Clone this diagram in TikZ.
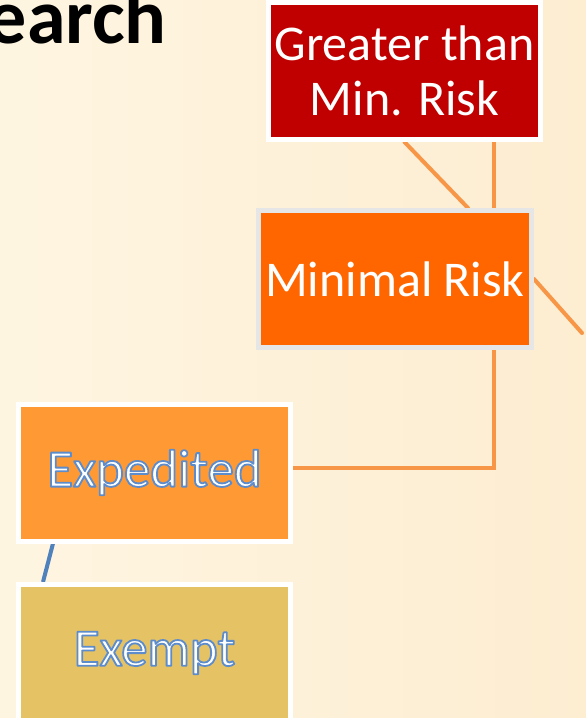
\documentclass[tikz,border=0pt]{standalone}
\usepackage{fontspec}
\setmainfont{Carlito}
\definecolor{bgL}{HTML}{FEF5E1}
\definecolor{bgR}{HTML}{FDEDD1}
\definecolor{redbox}{HTML}{C00000}
\definecolor{minbox}{HTML}{FF6600}
\definecolor{expbox}{HTML}{FF9933}
\definecolor{exmbox}{HTML}{E5C264}
\definecolor{lineor}{HTML}{F79646}
\definecolor{lineblue}{HTML}{4F81BD}
\definecolor{graybd}{HTML}{E6E6E6}
\newcommand{\glowtext}[1]{\special{pdf:literal direct 2 Tr 1.8 w 1 j 0.36 0.55 0.80 RG}#1\special{pdf:literal direct 0 Tr 0 G 1 w 0 j}}
\pgfdeclarelayer{bg}
\pgfdeclarelayer{lines}
\pgfsetlayers{bg,lines,main}
\tikzset{
  box/.style={draw=white, line width=5pt, minimum width=272pt, minimum height=137pt,
    inner sep=0pt, align=center, text=white, font=\fontsize{50}{55}\selectfont},
  glowbox/.style={box, font=\fontsize{53}{55}\selectfont},
  orline/.style={draw=lineor, line width=4pt, line cap=round},
  blline/.style={draw=lineblue, line width=4pt},
}
\begin{document}
\begin{tikzpicture}[x=1pt,y=-1pt]
\useasboundingbox (0,0) rectangle (586,718);
\clip (0,0) rectangle (586,718);
\begin{pgfonlayer}{bg}
\shade[left color=bgL, right color=bgR] (0,0) rectangle (586,718);
\end{pgfonlayer}

\node[anchor=base east, inner sep=0pt, font=\bfseries\fontsize{78}{80}\selectfont] (title) at (167,43) {earch};

\node[box, fill=redbox, minimum width=272.5pt] (g) at (404.5,71) {Greater than\\Min. Risk};
\node[box, fill=minbox, draw=graybd, minimum width=273pt] (m) at (395,279) {Minimal Risk};
\node[glowbox, fill=expbox] (e) at (154.5,472.5) {\glowtext{Expedited}};
\node[glowbox, fill=exmbox] (x) at (154.5,653) {\glowtext{Exempt}};
\coordinate (off) at (582,333);

\begin{pgfonlayer}{lines}
\draw[orline] (g.south) -- ([xshift=73pt]m.north);
\draw[orline] ([xshift=89.5pt]g.south) -- ([xshift=99pt]m.north);
\draw[orline] ([xshift=99pt]m.south) |- ([yshift=4.5pt]e.east);
\draw[orline] (m.east) -- (off);
\draw[blline] ([xshift=-101.5pt]e.south) -- ([xshift=-111.5pt]x.north);
\end{pgfonlayer}
\end{tikzpicture}
\end{document}
